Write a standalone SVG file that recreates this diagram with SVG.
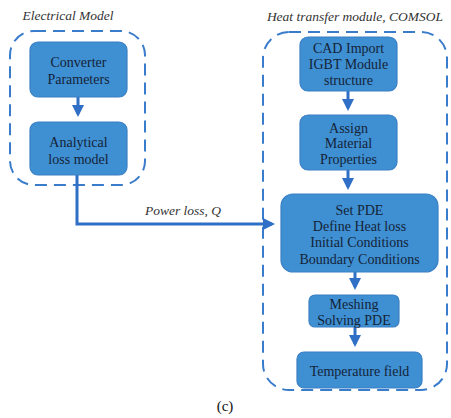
<svg xmlns="http://www.w3.org/2000/svg" width="451" height="418" viewBox="0 0 451 418">
<defs>
<style>
.grp{fill:none;stroke:#3a7ccc;stroke-width:2;stroke-dasharray:12,7}
.box{fill:#3f8fd3;stroke:#3a80c4;stroke-width:1.2}
.t{font-family:"Liberation Serif","Times New Roman",Times,Tinos,"DejaVu Serif",serif;font-size:14px;fill:#142436;text-anchor:middle}
.ti{font-family:"Liberation Serif","Times New Roman",Times,Tinos,"DejaVu Serif",serif;font-size:13.5px;font-style:italic;fill:#333;text-anchor:middle}
.c{fill:none;stroke:#2f6fc6;stroke-width:3}
</style>
<marker id="ah" markerWidth="4" markerHeight="4" refX="3" refY="2" orient="auto" markerUnits="strokeWidth">
<path d="M0,0 L4,2 L0,4 z" fill="#2f6fc6"/>
</marker>
</defs>
<rect width="451" height="418" fill="#fff"/>
<g id="electrical-model">
<rect class="grp" x="10" y="31" width="135" height="154" rx="24"/>
<text class="ti" x="68" y="20">Electrical Model</text>
</g>
<g id="heat-module">
<rect class="grp" x="263" y="32" width="184" height="358" rx="26"/>
<text class="ti" x="355" y="21">Heat transfer module, COMSOL</text>
</g>
<g id="connectors">
<line class="c" x1="78" y1="97" x2="78" y2="114" marker-end="url(#ah)"/>
<polyline class="c" points="77,175 77,224 272,224" marker-end="url(#ah)"/>
<line class="c" x1="348" y1="91" x2="348" y2="108" marker-end="url(#ah)"/>
<line class="c" x1="348" y1="170" x2="348" y2="187" marker-end="url(#ah)"/>
<line class="c" x1="355" y1="272" x2="355" y2="287" marker-end="url(#ah)"/>
<line class="c" x1="355" y1="327" x2="355" y2="344" marker-end="url(#ah)"/>
<text class="ti" x="183" y="215">Power loss, Q</text>
</g>
<g id="converter-parameters">
<rect class="box" x="30" y="42" width="97" height="55" rx="8"/>
<text class="t" x="78.5" y="67">Converter</text>
<text class="t" x="78.5" y="84">Parameters</text>
</g>
<g id="analytical-loss-model">
<rect class="box" x="30" y="122" width="97" height="53" rx="8"/>
<text class="t" x="78.5" y="147">Analytical</text>
<text class="t" x="78.5" y="164">loss model</text>
</g>
<g id="cad-import">
<rect class="box" x="300" y="37" width="97" height="54" rx="8"/>
<text class="t" x="348.5" y="53">CAD Import</text>
<text class="t" x="348.5" y="69">IGBT Module</text>
<text class="t" x="348.5" y="85">structure</text>
</g>
<g id="assign-material">
<rect class="box" x="300" y="115" width="97" height="55" rx="8"/>
<text class="t" x="348.5" y="133">Assign</text>
<text class="t" x="348.5" y="148">Material</text>
<text class="t" x="348.5" y="164">Properties</text>
</g>
<g id="set-pde">
<rect class="box" x="281" y="194" width="157" height="78" rx="12"/>
<text class="t" x="359.5" y="215">Set PDE</text>
<text class="t" x="359.5" y="231">Define Heat loss</text>
<text class="t" x="359.5" y="247">Initial Conditions</text>
<text class="t" x="359.5" y="264">Boundary Conditions</text>
</g>
<g id="meshing">
<rect class="box" x="309" y="295" width="90" height="32" rx="6"/>
<text class="t" x="354" y="309">Meshing</text>
<text class="t" x="354" y="325">Solving PDE</text>
</g>
<g id="temperature-field">
<rect class="box" x="297" y="352" width="125" height="36" rx="7"/>
<text class="t" x="359.5" y="376">Temperature field</text>
</g>
<text class="t" x="225" y="411" style="font-size:15px;fill:#111">(c)</text>
</svg>
